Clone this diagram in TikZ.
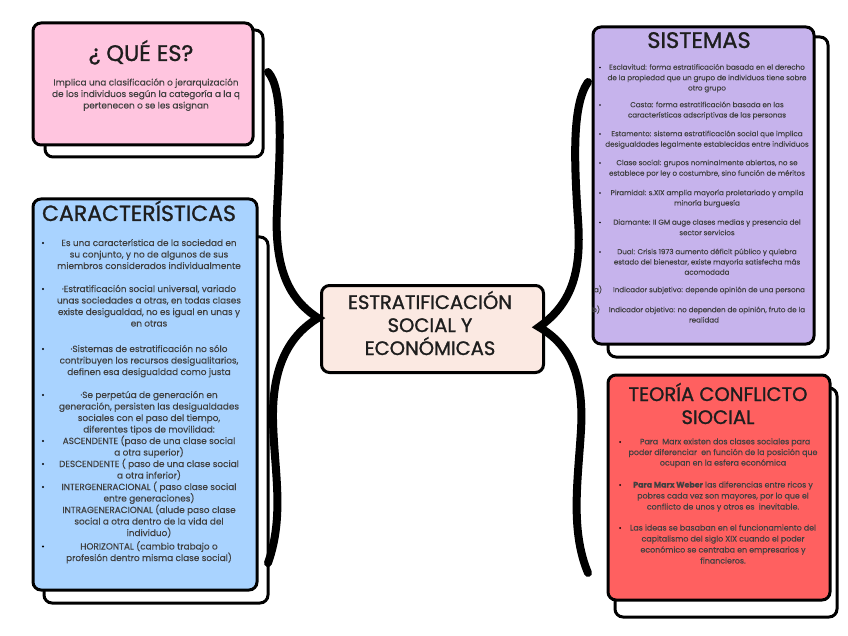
\documentclass[tikz,border=0pt]{standalone}
\usepackage{fontspec}
\setmainfont{Poppins}
\newfontfamily\ttlfont[FakeBold=1.2]{Poppins}
\newfontfamily\bodyfont[FakeBold=0.25]{Poppins}
\definecolor{pinkf}{HTML}{FFC5DF}
\definecolor{bluef}{HTML}{A9D3FF}
\definecolor{purpf}{HTML}{C6B3EC}
\definecolor{redf}{HTML}{FF6060}
\definecolor{ctrf}{HTML}{FBE9E2}
\definecolor{ttl}{HTML}{1E1E1E}
\definecolor{body}{HTML}{404040}
\begin{document}
\begin{tikzpicture}[x=1pt,y=-1pt,
  card/.style={draw=black,line width=3pt,rounded corners=8pt},
  shadowcard/.style={draw=black,fill=white,line width=3pt,rounded corners=8pt},
  bracepath/.style={draw=black,line width=8pt,line cap=round,line join=miter},
  ttltxt/.style={anchor=base,inner sep=0pt,text=ttl},
  bluetxt/.style={anchor=base,inner sep=0pt,text=body,font=\bodyfont\fontsize{8.9}{10}\selectfont},
  pinktxt/.style={anchor=base,inner sep=0pt,text=body,font=\bodyfont\fontsize{8.9}{10}\selectfont},
  purptxt/.style={anchor=base,inner sep=0pt,text=body,font=\bodyfont\fontsize{7.15}{8}\selectfont},
  redtxt/.style={anchor=base,inner sep=0pt,text=body,font=\bodyfont\fontsize{7.9}{9}\selectfont},
  dot/.style={fill=black}
]
\useasboundingbox (0,0) rectangle (848,636);

% ---- cards (shadow first, then front) ----
\draw[shadowcard] (45,30) rectangle (263,157);
\draw[card,fill=pinkf] (33,23) rectangle (253,145);

\draw[shadowcard] (44,237) rectangle (268,603);
\draw[card,fill=bluef] (33,199) rectangle (257,590);

\draw[shadowcard] (608,37) rectangle (828,357);
\draw[card,fill=purpf] (593,27) rectangle (814,344);

\draw[shadowcard] (615,388) rectangle (837,617);
\draw[card,fill=redf] (608,375) rectangle (830,600);

% ---- centre ----
\node[card,fill=ctrf,minimum width=222pt,minimum height=87pt,anchor=north west] (ctr) at (320,284) {};
\node[ttltxt,font=\ttlfont\fontsize{19.5}{22}\selectfont] (c1) at (430,309) {ESTRATIFICACIÓN};
\node[ttltxt,font=\ttlfont\fontsize{19.5}{22}\selectfont] (c2) at (430,332) {SOCIAL Y};
\node[ttltxt,font=\ttlfont\fontsize{19.5}{22}\selectfont] (c3) at (430,355) {ECONÓMICAS};

% ---- braces ----
\coordinate (ltop) at (268,72);
\coordinate (lbot) at (268,563);
\coordinate (ltip) at (318,318);
\coordinate (rtop) at (588,82);
\coordinate (rbot) at (588,573);
\coordinate (rtip) at (539,327);
\draw[bracepath] (ltop) .. controls (284,90) and (280,150) .. (277,210)
  .. controls (274,270) and (290,300) .. (ltip)
  .. controls (290,335) and (272,365) .. (273,420)
  .. controls (274,470) and (285,515) .. (lbot);
\draw[bracepath] (rtop) .. controls (572,105) and (574,160) .. (578,220)
  .. controls (582,275) and (570,305) .. (rtip)
  .. controls (570,345) and (584,375) .. (581,430)
  .. controls (578,480) and (570,530) .. (rbot);

% ---- titles ----
\node[ttltxt,font=\ttlfont\fontsize{22.5}{26}\selectfont] (t1) at (141,61) {¿ QUÉ ES?};
\node[ttltxt,font=\ttlfont\fontsize{22}{24}\selectfont] (t2) at (139,221) {CARACTERÍSTICAS};
\node[ttltxt,font=\ttlfont\fontsize{22.5}{24}\selectfont] (t3) at (699,48) {SISTEMAS};
\node[ttltxt,font=\ttlfont\fontsize{19.5}{24}\selectfont] (t4) at (718,401) {TEORÍA CONFLICTO};
\node[ttltxt,font=\ttlfont\fontsize{19.5}{24}\selectfont] (t5) at (718,424) {SIOCIAL};

% ---- pink body ----
\foreach \y/\t [count=\i] in {
  85.5/{Implica una clasificación o jerarquización},
  97/{de los individuos según la categoría a la q},
  108.5/{pertenecen o se les asignan}}
  \node[pinktxt,name=p\i] at (146,\y) {\t};

% ---- blue body ----
\foreach \y/\t [count=\i] in {
  246/{Es una característica de la sociedad en},
  257.5/{su conjunto, y no de algunos de sus},
  269/{miembros considerados individualmente},
  292/{·Estratificación social universal, variado},
  303.5/{unas sociedades a otras, en todas clases},
  315/{existe desigualdad, no es igual en unas y},
  326.5/{en otras},
  352/{·Sistemas de estratificación no sólo},
  363.5/{contribuyen los recursos desigualitarios,},
  375/{definen esa desigualdad como justa},
  398/{·Se perpetúa de generación en},
  409.5/{generación, persisten las desigualdades},
  421/{sociales con el paso del tiempo,},
  432.5/{diferentes tipos de movilidad:},
  444/{ASCENDENTE (paso de una clase social},
  455.5/{a otra superior)},
  467/{DESCENDENTE ( paso de una clase social},
  478.5/{a otra inferior)},
  490/{INTERGENERACIONAL ( paso clase social},
  501.5/{entre generaciones)},
  513/{INTRAGENERACIONAL (alude paso clase},
  524.5/{social a otra dentro de la vida del},
  536/{individuo)},
  549.5/{HORIZONTAL (cambio trabajo o},
  561/{profesión dentro misma clase social)}}
  \node[bluetxt,name=b\i] at (149,\y) {\t};
\foreach \y in {243,289,349,395,441,464,487,546.5}
  \fill[dot] (43,\y) circle (1.1pt);

% ---- purple body ----
\foreach \y/\t [count=\i] in {
  69.7/{Esclavitud: forma estratificación basada en el derecho},
  80.2/{de la propiedad que un grupo de individuos tiene sobre},
  90.5/{otro grupo},
  107.2/{Casta: forma estratificación basada en las},
  117.5/{características adscriptivas de las personas},
  136.2/{Estamento: sistema estratificación social que implica},
  146.7/{desigualdades legalmente establecidas entre individuos},
  165.2/{Clase social: grupos nominalmente abiertos, no se},
  175.7/{establece por ley o costumbre, sino función de méritos},
  195.2/{Piramidal: s.XIX amplia mayoría proletariado y amplia},
  205.5/{minoría burguesía},
  224.7/{Diamante: II GM auge clases medias y presencia del},
  235.2/{sector servicios},
  254.2/{Dual: Crisis 1973 aumento déficit público y quiebra},
  264.5/{estado del bienestar, existe mayoría satisfecha más},
  274.7/{acomodada}}
  \node[purptxt,name=s\i] at (707,\y) {\t};
\node[purptxt,name=sa] at (709,292.2) {Indicador subjetivo: depende opinión de una persona};
\node[purptxt,name=sal] at (598,292.2) {a)};
\node[purptxt,name=sb] at (707,312.2) {Indicador objetivo: no dependen de opinión, fruto de la};
\node[purptxt,name=sbl] at (596,312.2) {b)};
\node[purptxt,name=sc] at (704,322.5) {realidad};
\foreach \y in {67.5,105,134,163,193,222.5,252}
  \fill[dot] (600,\y) circle (0.8pt);

% ---- red body ----
\foreach \y/\t [count=\i] in {
  444.3/{\ \ Para \ Marx existen dos clases sociales para},
  455/{poder diferenciar \ en función de la posición que},
  465.5/{ocupan en la esfera económica},
  487.5/{\textbf{Para Marx Weber} las diferencias entre ricos y},
  498.5/{pobres cada vez son mayores, por lo que el},
  509.5/{conflicto de unos y otros es \ inevitable.},
  530.5/{Las ideas se basaban en el funcionamiento del},
  541.5/{capitalismo del siglo XIX cuando el poder},
  552.5/{económico se centraba en empresarios y},
  563.5/{financieros.}}
  \node[redtxt,name=r\i] at (723,\y) {\t};
\foreach \y in {442,485,528}
  \fill[dot] (620,\y) circle (1pt);
\end{tikzpicture}
\end{document}
